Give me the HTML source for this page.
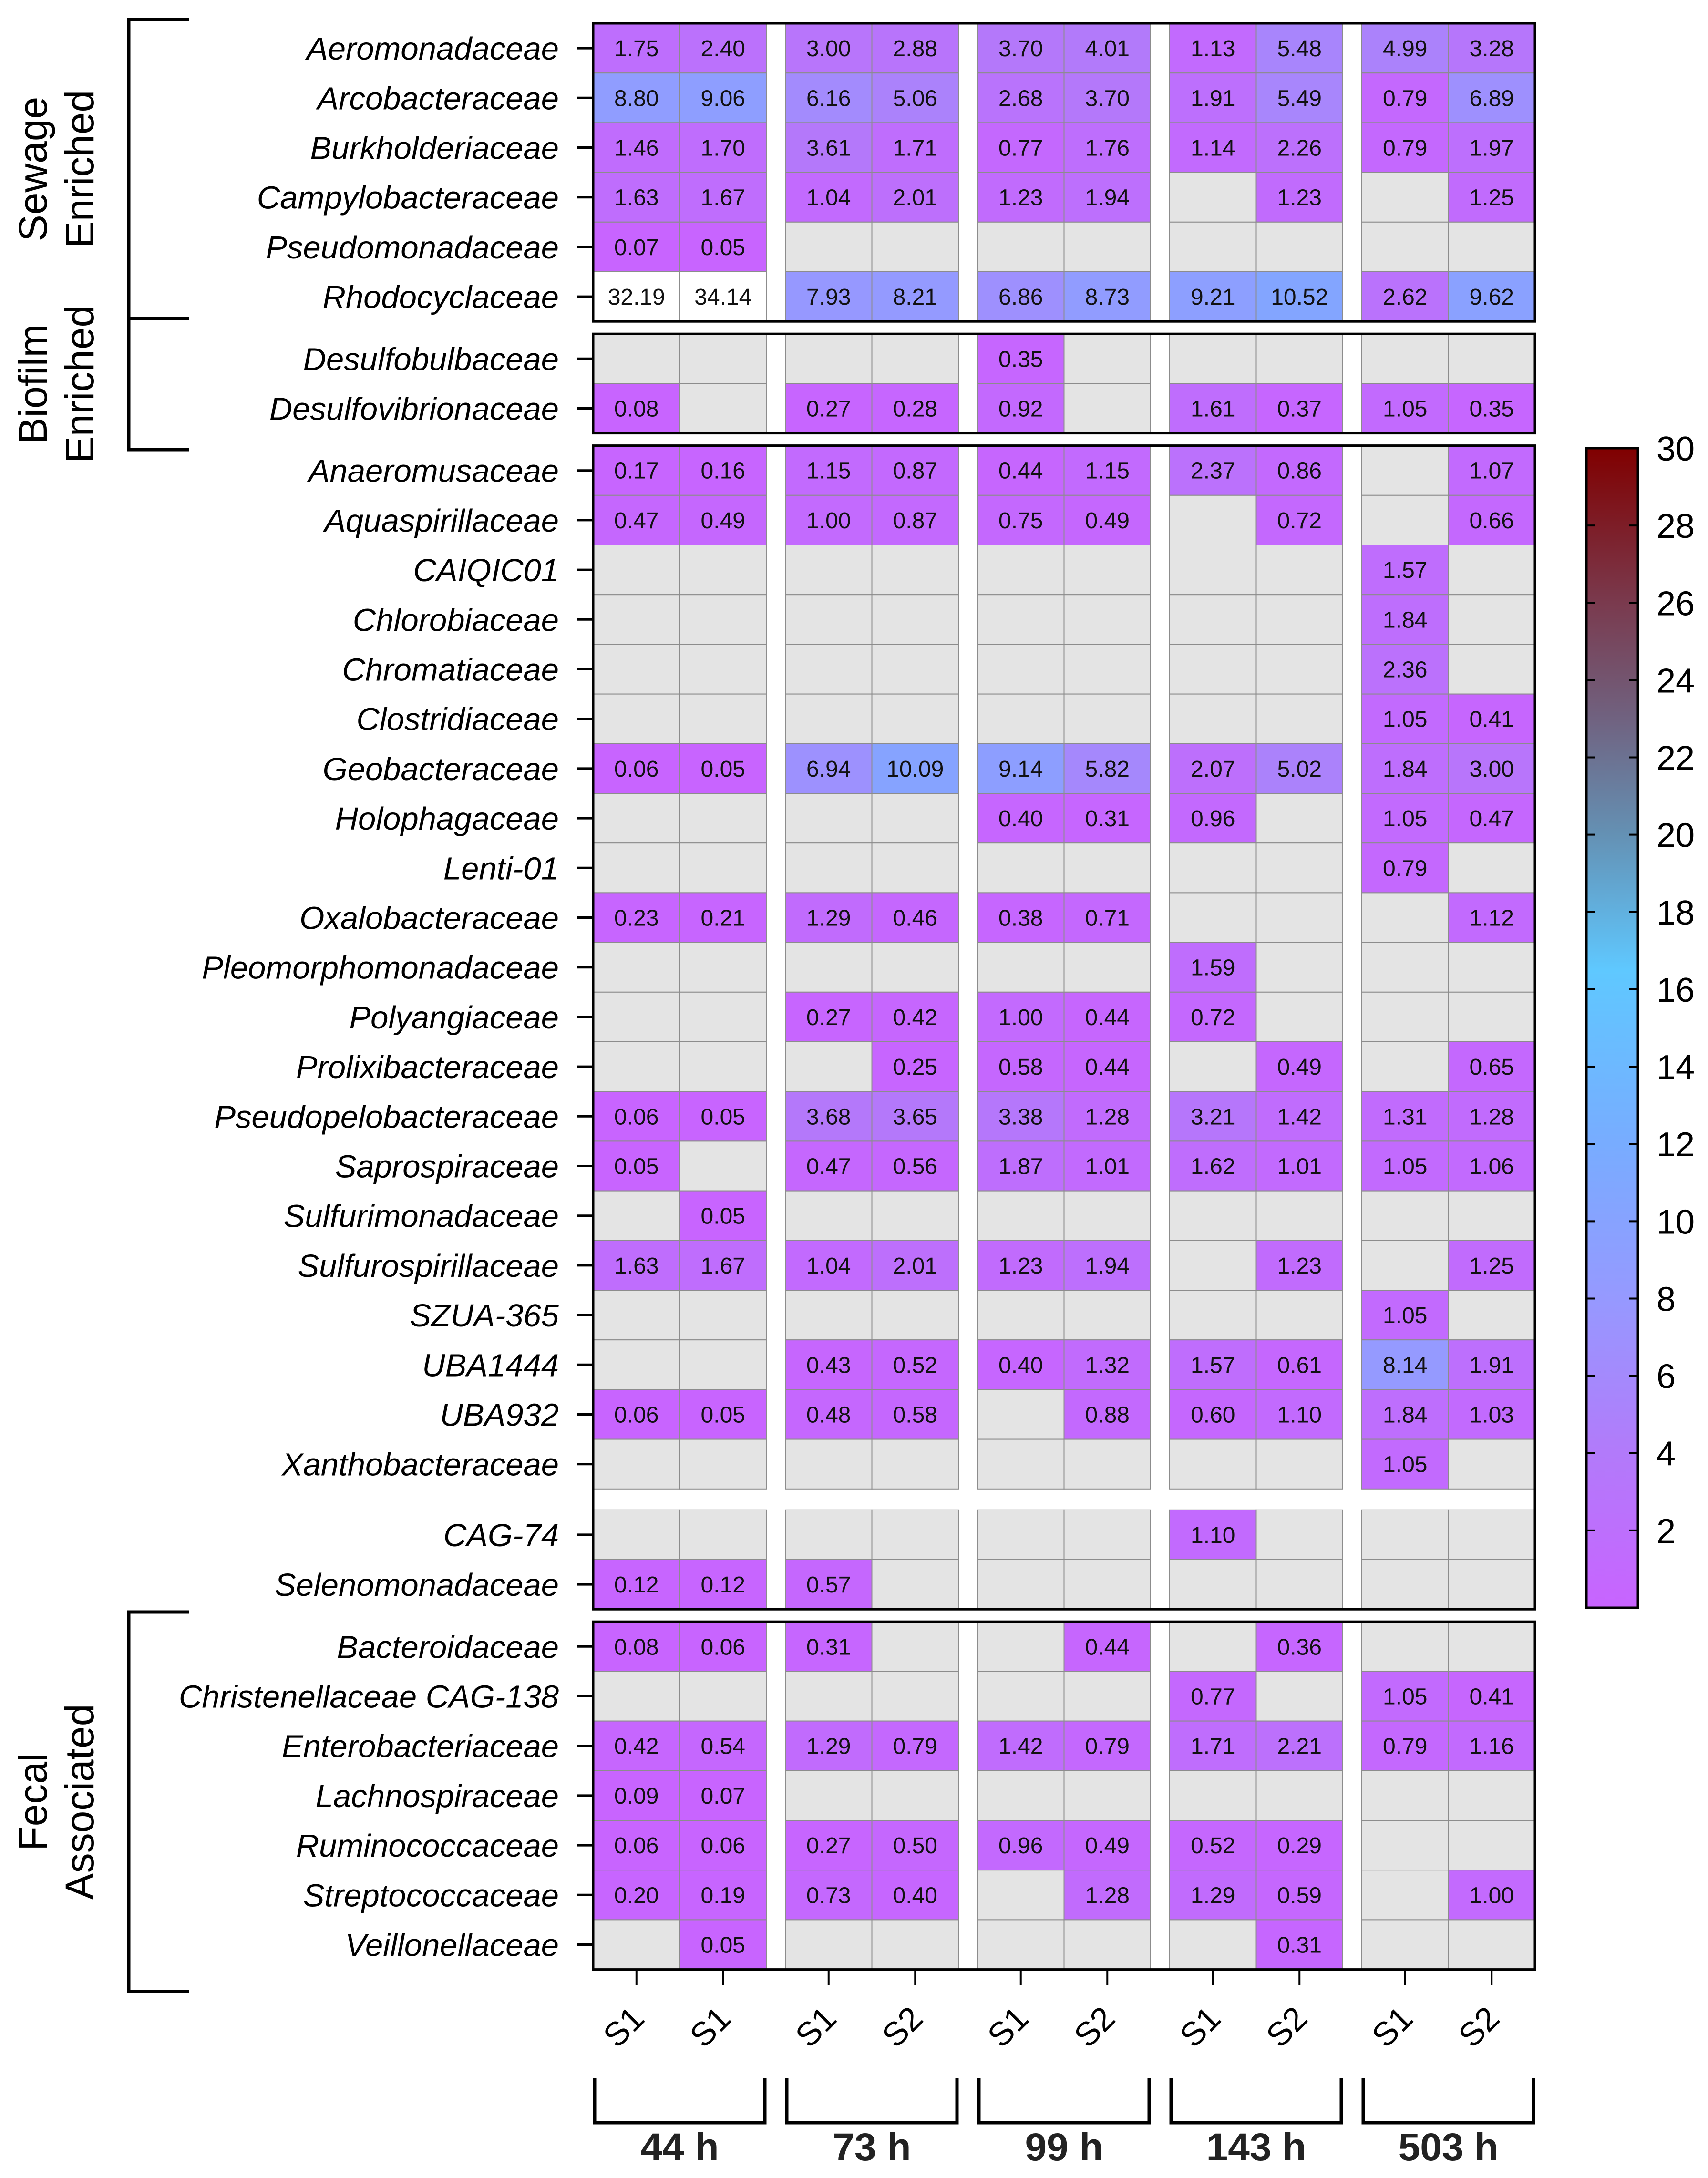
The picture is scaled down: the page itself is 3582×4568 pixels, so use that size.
<!DOCTYPE html>
<html><head><meta charset="utf-8">
<style>
html,body{margin:0;padding:0;background:#fff;}
svg{display:block;}
text{font-family:"Liberation Sans",Arial,sans-serif;}
</style></head>
<body>
<svg id="chart" width="3582" height="4568" viewBox="0 0 3582 4568" xmlns="http://www.w3.org/2000/svg">
<g id="bg"></g>
</svg>
<script>
const families = ["Aeromonadaceae","Arcobacteraceae","Burkholderiaceae","Campylobacteraceae","Pseudomonadaceae","Rhodocyclaceae",
"Desulfobulbaceae","Desulfovibrionaceae",
"Anaeromusaceae","Aquaspirillaceae","CAIQIC01","Chlorobiaceae","Chromatiaceae","Clostridiaceae","Geobacteraceae","Holophagaceae","Lenti-01","Oxalobacteraceae","Pleomorphomonadaceae","Polyangiaceae","Prolixibacteraceae","Pseudopelobacteraceae","Saprospiraceae","Sulfurimonadaceae","Sulfurospirillaceae","SZUA-365","UBA1444","UBA932","Xanthobacteraceae",
"CAG-74","Selenomonadaceae",
"Bacteroidaceae","Christenellaceae CAG-138","Enterobacteriaceae","Lachnospiraceae","Ruminococcaceae","Streptococcaceae","Veillonellaceae"];
const blockSizes = [6,2,21,2,7];
const timepoints = ["44 h","73 h","99 h","143 h","503 h"];
const sampleLabels = ["S1","S1","S1","S2","S1","S2","S1","S2","S1","S2"];
const colorbarTicks = [2,4,6,8,10,12,14,16,18,20,22,24,26,28,30];
const colorMax = 30;
const n = null;
const values = [
[1.75,2.40,3.00,2.88,3.70,4.01,1.13,5.48,4.99,3.28],
[8.80,9.06,6.16,5.06,2.68,3.70,1.91,5.49,0.79,6.89],
[1.46,1.70,3.61,1.71,0.77,1.76,1.14,2.26,0.79,1.97],
[1.63,1.67,1.04,2.01,1.23,1.94,n,1.23,n,1.25],
[0.07,0.05,n,n,n,n,n,n,n,n],
[32.19,34.14,7.93,8.21,6.86,8.73,9.21,10.52,2.62,9.62],
[n,n,n,n,0.35,n,n,n,n,n],
[0.08,n,0.27,0.28,0.92,n,1.61,0.37,1.05,0.35],
[0.17,0.16,1.15,0.87,0.44,1.15,2.37,0.86,n,1.07],
[0.47,0.49,1.00,0.87,0.75,0.49,n,0.72,n,0.66],
[n,n,n,n,n,n,n,n,1.57,n],
[n,n,n,n,n,n,n,n,1.84,n],
[n,n,n,n,n,n,n,n,2.36,n],
[n,n,n,n,n,n,n,n,1.05,0.41],
[0.06,0.05,6.94,10.09,9.14,5.82,2.07,5.02,1.84,3.00],
[n,n,n,n,0.40,0.31,0.96,n,1.05,0.47],
[n,n,n,n,n,n,n,n,0.79,n],
[0.23,0.21,1.29,0.46,0.38,0.71,n,n,n,1.12],
[n,n,n,n,n,n,1.59,n,n,n],
[n,n,0.27,0.42,1.00,0.44,0.72,n,n,n],
[n,n,n,0.25,0.58,0.44,n,0.49,n,0.65],
[0.06,0.05,3.68,3.65,3.38,1.28,3.21,1.42,1.31,1.28],
[0.05,n,0.47,0.56,1.87,1.01,1.62,1.01,1.05,1.06],
[n,0.05,n,n,n,n,n,n,n,n],
[1.63,1.67,1.04,2.01,1.23,1.94,n,1.23,n,1.25],
[n,n,n,n,n,n,n,n,1.05,n],
[n,n,0.43,0.52,0.40,1.32,1.57,0.61,8.14,1.91],
[0.06,0.05,0.48,0.58,n,0.88,0.60,1.10,1.84,1.03],
[n,n,n,n,n,n,n,n,1.05,n],
[n,n,n,n,n,n,1.10,n,n,n],
[0.12,0.12,0.57,n,n,n,n,n,n,n],
[0.08,0.06,0.31,n,n,0.44,n,0.36,n,n],
[n,n,n,n,n,n,0.77,n,1.05,0.41],
[0.42,0.54,1.29,0.79,1.42,0.79,1.71,2.21,0.79,1.16],
[0.09,0.07,n,n,n,n,n,n,n,n],
[0.06,0.06,0.27,0.50,0.96,0.49,0.52,0.29,n,n],
[0.20,0.19,0.73,0.40,n,1.28,1.29,0.59,n,1.00],
[n,0.05,n,n,n,n,n,0.31,n,n]
];
const categoryGroups = [
 {lines:["Sewage","Enriched"], first:0, last:5},
 {lines:["Biofilm","Enriched"], first:6, last:7},
 {lines:["Fecal","Associated"], first:31, last:37}
];

const NS="http://www.w3.org/2000/svg";
const svg=document.getElementById('chart');
function el(tag,attrs,parent,txt){const e=document.createElementNS(NS,tag);for(const k in attrs)e.setAttribute(k,attrs[k]);if(txt!==undefined)e.textContent=txt;(parent||svg).appendChild(e);return e;}

const X0=1244, CW=181.5, GAP=40, Y0=49, RH=104.2;
const blockGaps=[26,26,44,26];
function colX(i){return X0+i*CW+Math.floor(i/2)*GAP;}
const rowTop=[]; const blockRanges=[];
(function(){let y=Y0, r=0;blockSizes.forEach((s,b)=>{const st=y;for(let k=0;k<s;k++){rowTop[r++]=y;y+=RH;}blockRanges.push([st,y]);if(b<blockGaps.length)y+=blockGaps[b];});})();
const XR=colX(9)+CW;

const stops=[[0,[200,100,255]],[4,[178,122,250]],[8,[150,153,255]],[12,[120,172,255]],[16.5,[95,200,255]],[20,[100,145,180]],[23,[112,98,128]],[26,[122,58,78]],[30,[128,0,0]]];
function colorOf(v){if(v>colorMax)return "#ffffff";for(let i=1;i<stops.length;i++){if(v<=stops[i][0]){const a=stops[i-1],b=stops[i];const t=(v-a[0])/(b[0]-a[0]);const c=a[1].map((x,j)=>Math.round(x+(b[1][j]-x)*t));return `rgb(${c})`;}}return "rgb(128,0,0)";}

const frames=[[blockRanges[0][0],blockRanges[0][1]],[blockRanges[1][0],blockRanges[1][1]],[blockRanges[2][0],blockRanges[3][1]],[blockRanges[4][0],blockRanges[4][1]]];

const cellG=el('g',{});


values.forEach((row,r)=>{
 row.forEach((v,c)=>{
  const x=colX(c), y=rowTop[r];
  const rect=el('rect',{x:x,y:y,width:CW,height:RH,fill:v===null?'#e4e4e4':colorOf(v),stroke:'#8c8c8c','stroke-width':2},cellG);
  
  
  if(v!==null){
   const t=el('text',{x:x+CW/2,y:y+RH/2+17,'text-anchor':'middle','font-size':48,fill:'#111'},cellG,v.toFixed(2));
   
   
  }
 });
});

frames.forEach(f=>{
 const fr=el('rect',{x:X0,y:f[0],width:XR-X0,height:f[1]-f[0],fill:'none',stroke:'#000','stroke-width':5});
 
 
});

families.forEach((name,r)=>{
 const cy=rowTop[r]+RH/2;
 const tk=el('line',{x1:1210,x2:X0,y1:cy,y2:cy,stroke:'#000','stroke-width':5});
 
 
 const t=el('text',{x:1172,y:cy+24,'text-anchor':'end','font-size':67,'font-style':'italic',fill:'#000'},svg,name);
 
 
});

categoryGroups.forEach(g=>{
 let top, bot;
 if(g.first===0){top=41;bot=668;} else if(g.first===6){top=668;bot=943;} else {top=3381;bot=4177;}
 const p=el('path',{d:`M396 ${top} H270 V${bot} H396`,fill:'none',stroke:'#000','stroke-width':7});
 
 
 const cy=(top+bot)/2;
 const xs=[98,196];
 g.lines.forEach((ln,i)=>{
  const t=el('text',{x:xs[i],y:cy,'text-anchor':'middle','font-size':84,fill:'#000',transform:`rotate(-90 ${xs[i]} ${cy})`},svg,ln);
  
  
 });
});

const yb=frames[frames.length-1][1];
sampleLabels.forEach((s,c)=>{
 const cx=colX(c)+CW/2;
 const tk=el('line',{x1:cx,x2:cx,y1:yb,y2:yb+33,stroke:'#000','stroke-width':4});
 
 
 const lx=cx-10, ly=4268;
 const t=el('text',{x:lx,y:ly,'text-anchor':'middle','font-size':70,fill:'#000',transform:`rotate(-45 ${lx} ${ly})`},svg,s);
 
 
});

timepoints.forEach((tp,g)=>{
 const x1=colX(2*g)+3, x2=colX(2*g+1)+CW-3;
 const p=el('path',{d:`M${x1} 4358 V4452 H${x2} V4358`,fill:'none',stroke:'#000','stroke-width':7});
 
 
 const t=el('text',{x:(x1+x2)/2,y:4531,'text-anchor':'middle','font-size':82,'font-weight':'bold',fill:'#222'},svg,tp);
 
 
});

const CBX=3327, CBW=108, CBT=940, CBB=3372;
function cbY(v){return CBB-(v/colorMax)*(CBB-CBT);}
const defs=el('defs',{});
const grad=el('linearGradient',{id:'cbgrad',x1:0,y1:1,x2:0,y2:0},defs);
stops.forEach(s=>{el('stop',{offset:(s[0]/colorMax),'stop-color':`rgb(${s[1]})`},grad);});
const cb=el('rect',{x:CBX,y:CBT,width:CBW,height:CBB-CBT,fill:'url(#cbgrad)',stroke:'#000','stroke-width':5});


colorbarTicks.forEach(v=>{
 const y=cbY(v);
 if(v<colorMax){
  const a=el('line',{x1:CBX,x2:CBX+18,y1:y,y2:y,stroke:'#000','stroke-width':4});
  
  
  const b=el('line',{x1:CBX+CBW-18,x2:CBX+CBW,y1:y,y2:y,stroke:'#000','stroke-width':4});
  
  
 }
 const t=el('text',{x:3474,y:y+26,'text-anchor':'start','font-size':72,fill:'#000'},svg,String(v));
 
 
});
</script>
</body></html>
